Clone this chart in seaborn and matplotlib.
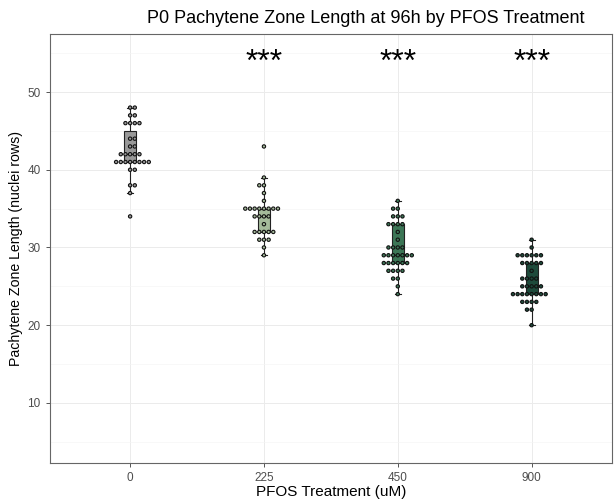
import pandas as pd
import seaborn as sns
import matplotlib.pyplot as plt
from matplotlib.ticker import MultipleLocator

# values (nuclei rows per gonad)
dose_0 = [48, 48, 47, 47, 46, 46, 46, 46, 44, 44, 43, 43, 42, 42, 42, 42, 42,
          41, 41, 41, 41, 41, 41, 41, 41, 40, 40, 38, 38, 37, 34]
dose_225 = [43, 39, 38, 38, 37, 36, 35, 35, 35, 35, 35, 35, 35, 35, 34, 34, 34, 34,
            33, 32, 32, 32, 32, 32, 31, 31, 31, 30, 29]
dose_450 = [36, 35, 35, 34, 34, 34, 33, 33, 33, 33, 32, 31, 30, 30, 30, 30,
            29, 29, 29, 29, 29, 29, 29, 28, 28, 28, 28, 28, 28,
            27, 27, 27, 27, 26, 26, 25, 24]
dose_900 = [31, 30, 29, 29, 29, 29, 29, 29, 28, 28, 28, 28, 28, 27, 26, 26, 26, 26,
            25, 25, 25, 25, 25, 24, 24, 24, 24, 24, 24, 24, 24, 23, 23, 23, 23, 22, 22, 20]

doses = ['0', '225', '450', '900']
colors = ['#999999', '#a5bb9b', '#3c7656', '#1e4a3b']
stars = ['', '***', '***', '***']

rows = []
for d, vals in zip(doses, [dose_0, dose_225, dose_450, dose_900]):
    for v in vals:
        rows.append({'dose': d, 'length': v})
df = pd.DataFrame(rows)

plt.rcParams['font.family'] = ['Liberation Sans', 'DejaVu Sans']

fig, ax = plt.subplots(figsize=(6.15, 5.01), dpi=100)
fig.subplots_adjust(left=0.081, right=0.995, bottom=0.076, top=0.932)

sns.boxplot(data=df, x='dose', y='length', hue='dose', order=doses, hue_order=doses,
            palette=colors, legend=False, width=0.09, showfliers=False,
            linecolor='#222222', linewidth=0.8, saturation=1, ax=ax, zorder=2)
sns.swarmplot(data=df, x='dose', y='length', hue='dose', order=doses, hue_order=doses,
              palette=colors, legend=False, size=2.4, edgecolor='#111111',
              linewidth=0.8, ax=ax, zorder=3)

for i, s in enumerate(stars):
    if s:
        ax.text(i, 53.7, s, ha='center', va='center', fontsize=23, color='black')

ax.set_xlim(-0.6, 3.6)
ax.set_ylim(2.28, 57.46)
ax.yaxis.set_major_locator(MultipleLocator(10))
ax.yaxis.set_minor_locator(MultipleLocator(5))
ax.grid(which='major', color='#ebebeb', linewidth=0.7, zorder=0)
ax.grid(which='minor', axis='y', color='#f4f4f4', linewidth=0.4, zorder=0)
ax.set_axisbelow(True)
ax.tick_params(which='minor', length=0)
ax.tick_params(which='major', length=3, color='#555555', labelcolor='#4d4d4d',
               labelsize=8.5, width=0.7)
for sp in ax.spines.values():
    sp.set_color('#666666')
    sp.set_linewidth(0.8)

fig.text(0.595, 0.964, 'P0 Pachytene Zone Length at 96h by PFOS Treatment',
         ha='center', va='center', fontsize=13)
ax.set_xlabel('PFOS Treatment (uM)', fontsize=11, labelpad=1)
ax.set_ylabel('Pachytene Zone Length (nuclei rows)', fontsize=10.2, labelpad=3)

plt.savefig('out.png', dpi=100)
